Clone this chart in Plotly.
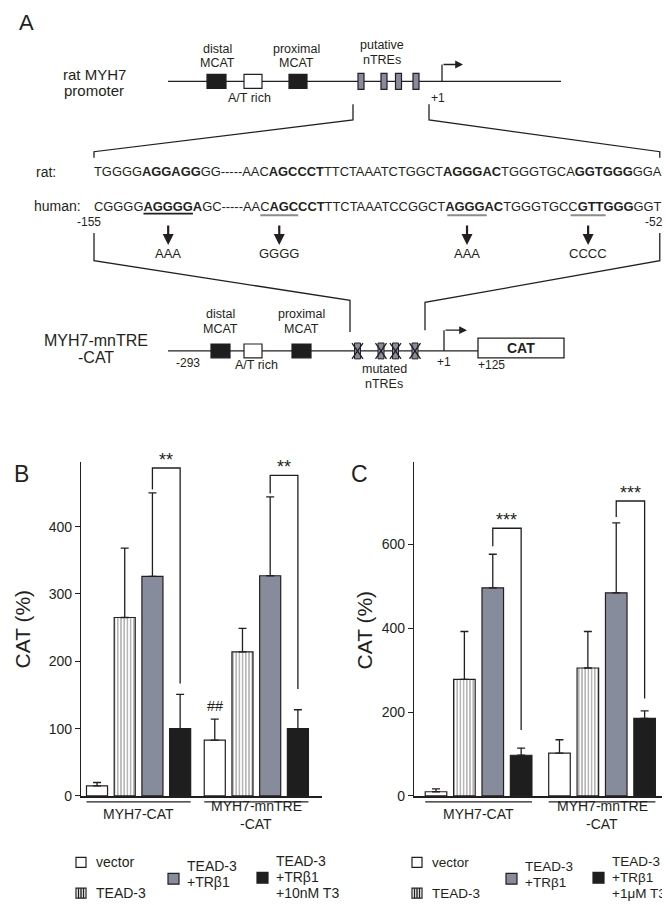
import plotly.graph_objects as go

INK = '#231f20'
GRAY = '#878c9c'
BLACK = '#1e1e1e'
FONT = 'Liberation Sans, Arial, Helvetica, sans-serif'

# ---------------- data ----------------
constructs = ['MYH7-CAT', 'MYH7-mnTRE<br>-CAT']
b_mean = [15, 265, 326, 100, 83, 214, 327, 100]
b_err_top = [20, 368, 450, 151, 114, 249, 444, 128]
c_mean = [10, 278, 496, 97, 102, 305, 484, 185]
c_err_top = [17, 392, 576, 114, 134, 392, 651, 203]
b_ticks = [0, 100, 200, 300, 400]
c_ticks = [0, 200, 400, 600]
b_legend = ['vector', 'TEAD-3', 'TEAD-3<br>+TRβ1', 'TEAD-3<br>+TRβ1<br>+10nM T3']
c_legend = ['vector', 'TEAD-3', 'TEAD-3<br>+TRβ1', 'TEAD-3<br>+TRβ1<br>+1μM T3']
# significance brackets: (bar i, bar j, left foot, top, right foot, label)
b_sig = [(2, 3, 455, 487, 167, '**'), (6, 7, 449, 476, 159, '**')]
c_sig = [(2, 3, 595, 638, 157, '***'), (6, 7, 665, 703, 232, '***')]
b_marks = [(4, 134, '##')]

rat_seq = [('TGGGG', 0), ('AGGAGG', 1), ('GG-----AAC', 0), ('AGCCCT', 1),
           ('TTCTAAATCTGGCT', 0), ('AGGGAC', 1), ('TGGGTGCA', 0), ('GGTGGG', 1), ('GGA', 0)]
human_seq = [('CGGGG', 0), ('AGGGGA', 1), ('GC-----AAC', 0), ('AGCCCT', 1),
             ('TTCTAAATCCGGCT', 0), ('AGGGAC', 1), ('TGGGTGCC', 0), ('GTTGGG', 1), ('GGT', 0)]
underlined = [(5, 10), (20, 24), (41, 45), (54, 58)]   # char ranges in human seq
mutations = ['AAA', 'GGGG', 'AAA', 'CCCC']

# ---------------- layout helpers ----------------
shapes, annots = [], []


def L(x0, y0, x1, y1, w=1.3, c=INK):
    shapes.append(dict(type='line', xref='x3', yref='y3', x0=x0, y0=y0, x1=x1, y1=y1,
                       line=dict(color=c, width=w)))


def R(x0, y0, x1, y1, fill, w=1.2, c=INK):
    shapes.append(dict(type='rect', xref='x3', yref='y3', x0=x0, y0=y0, x1=x1, y1=y1,
                       fillcolor=fill, line=dict(color=c, width=w)))


def P(path, w=1.3, c=INK):
    shapes.append(dict(type='path', xref='x3', yref='y3', path=path,
                       line=dict(color=c, width=w)))


def T(x, y, s, size=13, xa='center', ya='middle', angle=0, xref='x3', yref='y3'):
    annots.append(dict(x=x, y=y, xref=xref, yref=yref, text=s, showarrow=False,
                       xanchor=xa, yanchor=ya, textangle=angle, borderpad=0, borderwidth=0,
                       font=dict(size=size, color=INK, family=FONT)))


def A(xh, yh, xt, yt, w=1.3, size=1.2):
    annots.append(dict(x=xh, y=yh, ax=xt, ay=yt, xref='x3', yref='y3', axref='x3', ayref='y3',
                       text='', showarrow=True, arrowhead=2, arrowsize=size, arrowwidth=w,
                       arrowcolor=INK, standoff=0, startstandoff=0))


# ---------------- panel A ----------------
T(18, 15, 'A', 22)
T(86, 67, 'rat MYH7', 15)
T(86, 83, 'promoter', 15)
L(160, 74, 553, 74)
R(199, 67, 218, 81, BLACK)
R(236, 67, 254, 81, 'white')
R(281, 67, 299, 81, BLACK)
for xc in [353, 376, 390.5, 408]:
    R(xc - 3, 66, xc + 3, 82, GRAY)
L(434, 74, 434, 57)
A(455, 57, 434, 57)
T(209, 41, 'distal', 12.5); T(209, 55, 'MCAT', 12.5)
T(288, 41, 'proximal', 12.5); T(288, 55, 'MCAT', 12.5)
T(374, 37, 'putative', 12.5); T(374, 52, 'nTREs', 12.5)
T(241, 91, 'A/T rich', 12.5); T(430, 91, '+1', 12)

# sequences
SEQ_SIZE = 12.9
SEQ_X0 = 86
W_REG = {'A': 667, 'C': 722, 'G': 778, 'T': 611, '-': 333}
W_BOLD = {'A': 722, 'C': 722, 'G': 778, 'T': 611, '-': 333}


def html(segs):
    return ''.join('<b>%s</b>' % t if b else t for t, b in segs)


def x_of(segs, n):
    x = SEQ_X0
    k = 0
    for t, b in segs:
        for ch in t:
            if k >= n:
                return x
            x += (W_BOLD if b else W_REG)[ch] * SEQ_SIZE / 1000.0
            k += 1
    return x


seq_end = x_of(rat_seq, 10 ** 6)
P('M 345,97 L 345,113 L %s,145 L %s,151' % (SEQ_X0, SEQ_X0))
P('M 421,97 L 421,113 L %s,145 L %s,151' % (seq_end - 4, seq_end - 4))

T(28, 165, 'rat:', 14, xa='left')
T(26, 200, 'human:', 14, xa='left')
T(SEQ_X0, 165, html(rat_seq), SEQ_SIZE, xa='left')
T(SEQ_X0, 200, html(human_seq), SEQ_SIZE, xa='left')
centers = []
for k, (i0, i1) in enumerate(underlined):
    xa0, xa1 = x_of(human_seq, i0), x_of(human_seq, i1)
    centers.append((xa0 + xa1) / 2)
    if k == 0:
        L(xa0, 207.5, xa1, 207.5, 1.6, INK)
    else:
        L(xa0, 209, xa1, 209, 2, '#8c8c8c')
T(SEQ_X0 - 5, 216, '-155', 12); T(seq_end - 10, 216, '-52', 12)
for xc, m in zip(centers, mutations):
    A(xc, 239, xc, 218, 2.2, 1.0)
    T(xc, 248, m, 13)
P('M %s,227 L %s,255 L 342,295 L 342,327' % (SEQ_X0, SEQ_X0))
P('M %s,227 L %s,255 L 417,297 L 417,325' % (seq_end - 4, seq_end - 4))

# mutant construct
T(88, 335, 'MYH7-mnTRE', 16)
T(88, 353, '-CAT', 16)
L(160, 346, 470, 346)
R(203, 339, 222, 353, BLACK)
R(236, 339, 254, 353, 'white')
R(284, 339, 303, 353, BLACK)
for xc in [349.5, 373, 387.5, 407]:
    R(xc - 3, 338, xc + 3, 354, GRAY, 1.0)
    L(xc - 5.5, 338, xc + 5.5, 354, 1.3)
    L(xc + 5.5, 338, xc - 5.5, 354, 1.3)
L(436, 346, 436, 325)
A(459, 325, 436, 325)
R(470, 333, 556, 353, 'white', 1.3)
T(513, 343, '<b>CAT</b>', 14)
T(212, 309, 'distal', 12.5); T(212, 324, 'MCAT', 12.5)
T(293, 309, 'proximal', 12.5); T(293, 324, 'MCAT', 12.5)
T(180, 358, '-293', 12); T(248, 360, 'A/T rich', 12.5)
T(436, 357, '+1', 12); T(483, 360, '+125', 12)
T(376, 364, 'mutated', 12.5); T(376, 379, 'nTREs', 12.5)

# ---------------- panels B & C ----------------
T(13, 470, 'B', 23)
T(351, 470, 'C', 23)
T(14, 627, 'CAT (%)', 21, angle=-90)
T(356, 628, 'CAT (%)', 21, angle=-90)

fills = ['white', 'white', GRAY, BLACK]
patterns = [None, '|', None, None]

fig = go.Figure()


def add_panel(means, tops, gap, xa, ya, sigs, marks):
    pos = [i + (gap if i >= 4 else 0) for i in range(8)]
    for k in range(4):
        idx = [k, k + 4]
        marker = dict(color=fills[k], line=dict(color=INK, width=1.2))
        if patterns[k]:
            marker['pattern'] = dict(shape=patterns[k], fgcolor=INK, bgcolor='white',
                                     size=3.2, solidity=0.33)
        fig.add_trace(go.Bar(
            x=[pos[i] for i in idx], y=[means[i] for i in idx], width=0.76,
            marker=marker, xaxis=xa, yaxis=ya, showlegend=False, hoverinfo='skip',
            error_y=dict(type='data', symmetric=False,
                         array=[tops[i] - means[i] for i in idx], arrayminus=[0, 0],
                         color=INK, thickness=1.3, width=4)))
    xr = 'x' if xa == 'x' else 'x2'
    yr = 'y' if ya == 'y' else 'y2'
    for i, j, yl, top, yrr, lab in sigs:
        shapes.append(dict(type='path', xref=xr, yref=yr,
                           path='M %s,%s L %s,%s L %s,%s L %s,%s' % (pos[i], yl, pos[i], top, pos[j], top, pos[j], yrr),
                           line=dict(color=INK, width=1.3)))
        annots.append(dict(x=(pos[i] + pos[j]) / 2, y=top, xref=xr, yref=yr, text=lab,
                           showarrow=False, yanchor='bottom', yshift=-4,
                           font=dict(size=18, color=INK, family=FONT)))
    for i, yv, lab in marks:
        annots.append(dict(x=pos[i], y=yv, xref=xr, yref=yr, text=lab, showarrow=False,
                           font=dict(size=14.5, color=INK, family=FONT)))
    # construct groups under the axis
    for g in range(2):
        x0 = pos[4 * g] - 0.38
        x1 = pos[4 * g + 3] + 0.38
        shapes.append(dict(type='line', xref=xr, yref='paper', x0=x0, x1=x1,
                           y0=(905 - 801) / 905, y1=(905 - 801) / 905,
                           line=dict(color=INK, width=1.3)))
        cx = (pos[4 * g] + pos[4 * g + 3]) / 2
        lines = constructs[g].split('<br>')
        ys = [823] if len(lines) == 1 else [815, 833]
        for s, yy in zip(lines, ys):
            annots.append(dict(x=cx, y=(905 - yy) / 905, xref=xr, yref='paper', text=s,
                               showarrow=False, font=dict(size=14, color=INK, family=FONT)))
    return pos


add_panel(b_mean, b_err_top, 0.25, 'x', 'y', b_sig, b_marks)
add_panel(c_mean, c_err_top, 0.35, 'x2', 'y2', c_sig, [])


def legend(x0, cols, labels, size=14):
    sq = 10
    R(x0, 857, x0 + sq, 867, 'white')
    T(x0 + sq + 10, 862, labels[0], size, xa='left')
    R(x0, 888, x0 + sq, 898, 'white')
    for dx in [2.5, 5, 7.5]:
        L(x0 + dx, 888, x0 + dx, 898, 1.4)
    T(x0 + sq + 10, 893, labels[1], size, xa='left')
    xs = x0 + cols[0]
    R(xs, 873, xs + 11, 884, GRAY)
    for s, yy in zip(labels[2].split('<br>'), [866, 882]):
        T(xs + 19, yy, s, size, xa='left')
    xs = x0 + cols[1]
    R(xs, 872, xs + 11, 883, BLACK)
    for s, yy in zip(labels[3].split('<br>'), [861, 877, 893]):
        T(xs + 19, yy, s, size, xa='left')


legend(68, [92, 181], b_legend)
legend(404, [94, 181], c_legend, 13.5)

fig.add_trace(go.Scatter(x=[None], y=[None], xaxis='x3', yaxis='y3', showlegend=False,
                         hoverinfo='skip'))

ydom = [(905 - 795) / 905, (905 - 458) / 905]
yax = dict(showline=True, linewidth=1.3, linecolor=INK, ticks='outside', ticklen=5,
           tickwidth=1.3, tickcolor=INK, showgrid=False, zeroline=False,
           tickfont=dict(size=14, color=INK, family=FONT), domain=ydom, fixedrange=True)
xax = dict(showline=True, linewidth=1.5, linecolor=INK, ticks='', showticklabels=False,
           showgrid=False, zeroline=False, fixedrange=True)

fig.update_layout(
    width=670, height=905, margin=dict(l=0, r=0, t=0, b=0),
    paper_bgcolor='white', plot_bgcolor='rgba(0,0,0,0)',
    barmode='overlay', showlegend=False,
    font=dict(family=FONT, color=INK),
    xaxis=dict(xax, domain=[73 / 670, 314 / 670], range=[-0.578, 8.12], anchor='y'),
    yaxis=dict(yax, range=[0, 496], tickvals=b_ticks, anchor='x'),
    xaxis2=dict(xax, domain=[406 / 670, 667 / 670], range=[-0.775, 8.42], anchor='y2'),
    yaxis2=dict(yax, range=[0, 796], tickvals=c_ticks, anchor='x2'),
    xaxis3=dict(domain=[0, 1], range=[0, 670], visible=False, fixedrange=True, anchor='y3'),
    yaxis3=dict(domain=[0, 1], range=[905, 0], visible=False, fixedrange=True, anchor='x3'),
    shapes=shapes, annotations=annots,
)

fig.write_html('out.html')
